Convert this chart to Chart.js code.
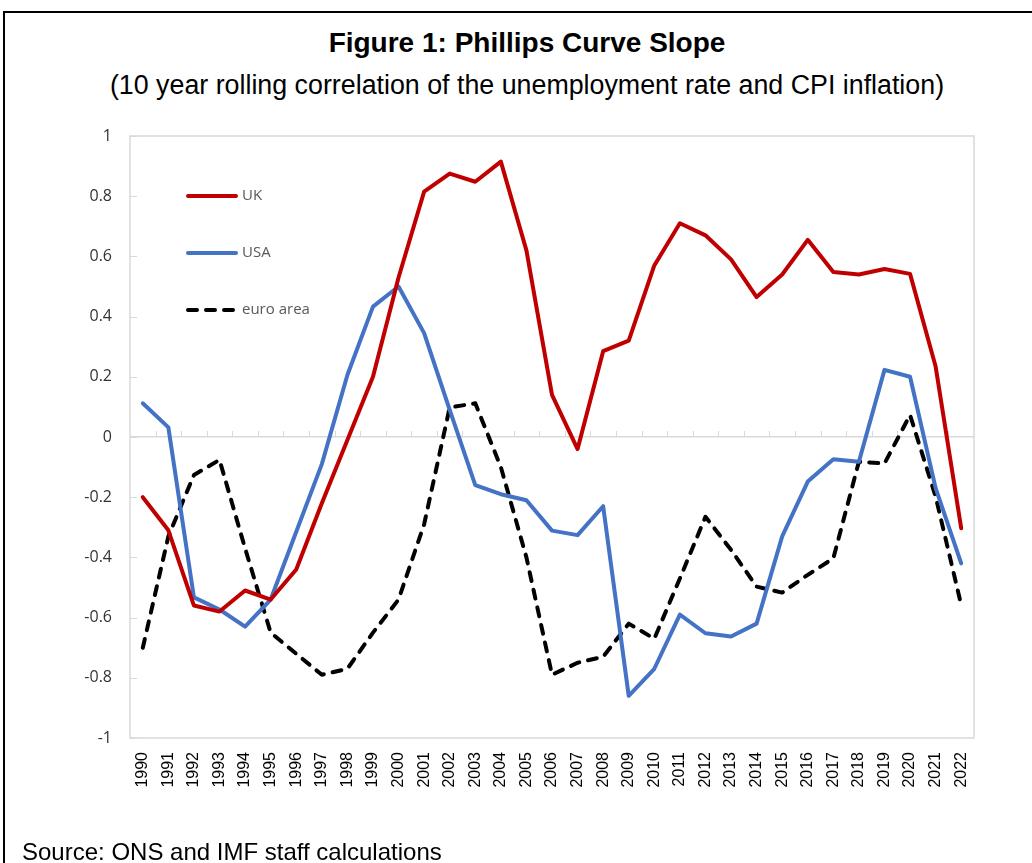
<!DOCTYPE html>
<html>
<head>
<meta charset="utf-8">
<script src="https://cdn.jsdelivr.net/npm/chart.js@4"></script>
<style>
html,body{margin:0;padding:0;background:#fff;}
#wrap{position:relative;width:1032px;height:863px;overflow:hidden;background:#fff;}
#frame{position:absolute;left:3px;top:11px;width:1100px;height:900px;border-top:2px solid #000;border-left:2px solid #000;}
.t{position:absolute;left:0;width:1054px;text-align:center;font-family:"Liberation Sans",Arial,sans-serif;color:#000;white-space:nowrap;}
#title{top:29px;font-weight:bold;font-size:28px;line-height:28px;}
#subtitle{top:72px;font-size:26.8px;line-height:27px;}
#source{position:absolute;left:22px;top:840px;font-family:"Liberation Sans",Arial,sans-serif;font-size:24px;line-height:24px;color:#000;white-space:nowrap;}
#c{position:absolute;left:0;top:0;}
</style>
</head>
<body>
<div id="wrap">
  <div id="frame"></div>
  <div class="t" id="title">Figure 1: Phillips Curve Slope</div>
  <div class="t" id="subtitle">(10 year rolling correlation of the unemployment rate and CPI inflation)</div>
  <canvas id="c" width="1032" height="863"></canvas>
  <div id="source">Source: ONS and IMF staff calculations</div>
</div>
<script>
const years = ["1990","1991","1992","1993","1994","1995","1996","1997","1998","1999",
               "2000","2001","2002","2003","2004","2005","2006","2007","2008","2009",
               "2010","2011","2012","2013","2014","2015","2016","2017","2018","2019",
               "2020","2021","2022"];
const ukValues = [-0.20,-0.31,-0.56,-0.58,-0.51,-0.54,-0.44,-0.22,-0.01,0.20,
                  0.53,0.815,0.875,0.848,0.915,0.62,0.14,-0.04,0.285,0.32,
                  0.57,0.71,0.67,0.59,0.465,0.54,0.655,0.548,0.54,0.558,
                  0.542,0.234,-0.303];
const usaValues = [0.112,0.032,-0.533,-0.573,-0.63,-0.54,-0.315,-0.09,0.206,0.433,
                   0.50,0.345,0.09,-0.16,-0.19,-0.21,-0.311,-0.326,-0.23,-0.86,
                   -0.77,-0.59,-0.652,-0.663,-0.62,-0.33,-0.148,-0.074,-0.082,0.223,
                   0.20,-0.17,-0.42];
const euroValues = [-0.70,-0.33,-0.126,-0.076,-0.37,-0.65,-0.72,-0.79,-0.77,-0.65,
                    -0.54,-0.29,0.098,0.112,-0.10,-0.40,-0.79,-0.75,-0.73,-0.62,
                    -0.67,-0.47,-0.265,-0.375,-0.497,-0.517,-0.458,-0.403,-0.082,-0.088,
                    0.073,-0.198,-0.558];
const seriesNames = ["UK","USA","euro area"];
const yTickMin = -1, yTickMax = 1, yTickStep = 0.2;

const GRID = '#d9d9d9';

const decor = {
  id: 'decor',
  beforeDatasetsDraw(chart) {
    const {ctx, chartArea: a, scales: {x, y}} = chart;
    ctx.save();
    ctx.strokeStyle = GRID;
    ctx.lineWidth = 1.5;
    ctx.strokeRect(a.left, a.top, a.right - a.left, a.bottom - a.top);
    ctx.lineWidth = 1;
    y.ticks.forEach(t => {
      const py = Math.round(y.getPixelForValue(t.value)) + 0.5;
      ctx.beginPath(); ctx.moveTo(a.left, py); ctx.lineTo(a.left + 7, py); ctx.stroke();
    });
    const y0 = y.getPixelForValue(0);
    const n = years.length;
    const half = (x.getPixelForValue(1) - x.getPixelForValue(0)) / 2;
    for (let i = 1; i < n; i++) {
      const px = Math.round(x.getPixelForValue(i) - half) + 0.5;
      ctx.beginPath(); ctx.moveTo(px, y0); ctx.lineTo(px, y0 - 6); ctx.stroke();
    }
    ctx.restore();
  },
  afterDatasetsDraw(chart) {
    const {ctx, chartArea: a} = chart;
    ctx.save();
    const offsets = [60, 117, 174];
    chart.data.datasets.forEach((ds, i) => {
      const yy = a.top + offsets[i];
      ctx.strokeStyle = ds.borderColor;
      ctx.lineWidth = ds.borderWidth;
      ctx.lineCap = 'round';
      ctx.setLineDash(ds.borderDash || []);
      ctx.beginPath(); ctx.moveTo(a.left + 58, yy); ctx.lineTo(a.left + 106, yy); ctx.stroke();
      ctx.setLineDash([]);
      ctx.fillStyle = '#595959';
      ctx.font = '15px "Open Sans", sans-serif';
      ctx.textBaseline = 'middle';
      ctx.textAlign = 'left';
      ctx.fillText(ds.label, a.left + 112, yy);
    });
    ctx.restore();
  }
};

new Chart(document.getElementById('c'), {
  type: 'line',
  data: {
    labels: years,
    datasets: [
      {label: seriesNames[0], data: ukValues, borderColor: '#C00000', borderWidth: 4, pointRadius: 0, tension: 0, borderJoinStyle: 'round', borderCapStyle: 'round', fill: false},
      {label: seriesNames[1], data: usaValues, borderColor: '#4472C4', borderWidth: 4, pointRadius: 0, tension: 0, borderJoinStyle: 'round', borderCapStyle: 'round', fill: false},
      {label: seriesNames[2], data: euroValues, borderColor: '#000000', borderWidth: 4, borderDash: [9, 9], pointRadius: 0, tension: 0, borderJoinStyle: 'round', borderCapStyle: 'round', fill: false}
    ]
  },
  options: {
    responsive: false,
    animation: false,
    devicePixelRatio: 1,
    layout: {padding: {top: 136, right: 58, bottom: 0, left: 0}},
    plugins: {legend: {display: false}, tooltip: {enabled: false}, title: {display: false}},
    scales: {
      x: {
        type: 'category',
        offset: true,
        grid: {display: false, drawTicks: false},
        border: {display: false},
        ticks: {
          autoSkip: false, minRotation: 90, maxRotation: 90, padding: 14,
          color: '#000', font: {family: '"Liberation Sans", Arial, sans-serif', size: 16}
        },
        afterFit(s) { s.height = 125; }
      },
      y: {
        min: yTickMin, max: yTickMax,
        grid: {drawTicks: false, lineWidth: 1.5, color: c => (c.tick && Math.abs(c.tick.value) < 1e-9) ? GRID : 'rgba(0,0,0,0)'},
        border: {display: false},
        ticks: {
          stepSize: yTickStep, padding: 18, color: '#333333',
          font: {family: '"Open Sans", sans-serif', size: 16},
          callback: v => String(Math.round(v * 10) / 10)
        },
        afterFit(s) { s.width = 130; }
      }
    }
  },
  plugins: [decor]
});
</script>
</body>
</html>
